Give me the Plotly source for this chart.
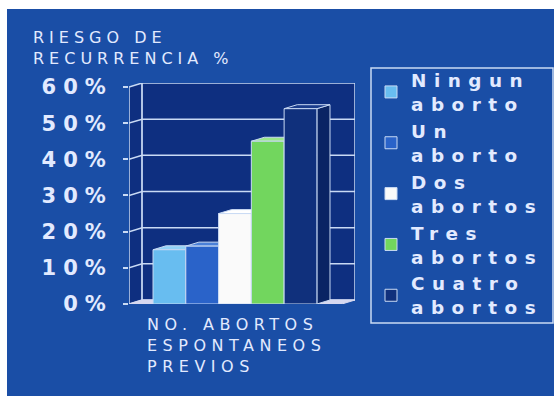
import plotly.graph_objects as go

# ---- data ----
categories = ["Ningun aborto", "Un aborto", "Dos abortos", "Tres abortos", "Cuatro abortos"]
legend_lines = [["Ningun", "aborto"], ["Un", "aborto"], ["Dos", "abortos"],
                ["Tres", "abortos"], ["Cuatro", "abortos"]]
risk_pct = [15, 16, 25, 45, 54]
y_ticks = [0, 10, 20, 30, 40, 50, 60]
y_tick_labels = ["0%", "10%", "20%", "30%", "40%", "50%", "60%"]

# ---- style ----
PANEL = "#1a4ea6"
WALL = "#0e2f80"
EDGE = "#c9daf4"
TEXT = "#e2eaff"
front_colors = ["#68bdf0", "#2a63c9", "#fafafa", "#72d65e", "#10307c"]
top_colors = ["#92d2f7", "#4a80d8", "#ffffff", "#9be68a", "#1a3c8c"]
side_colors = ["#4a9ad0", "#1f52aa", "#dcdcdc", "#58b548", "#0a2464"]

# pseudo-3D geometry in data units
DX, DY = 0.4, 1.1
X0, X1 = -1.233, 5.263
YTOP = y_ticks[-1]

# plot area in pixels (for placing paper-referenced items)
PL, PW, PB, PH = 129, 226, 304, 221


def px_x(px):
    return (px - PL) / PW


def px_y(py):
    return (PB - py) / PH


def spaced(txt, px):
    return f'<span style="letter-spacing:{px}px">{txt}</span>'


def poly(pts):
    return "M" + "L".join(f"{x},{y}" for x, y in pts) + "Z"


fig = go.Figure()

shapes = []
# blue panel inside a thin white margin
shapes.append(dict(type="rect", xref="paper", yref="paper", layer="below",
                   x0=px_x(7), x1=px_x(560), y0=px_y(400), y1=px_y(9),
                   fillcolor=PANEL, line=dict(width=0)))
# legend frame
shapes.append(dict(type="rect", xref="paper", yref="paper", layer="below",
                   x0=px_x(371), x1=px_x(553), y0=px_y(323), y1=px_y(68),
                   fillcolor=PANEL, line=dict(color=EDGE, width=1.5)))
# left wall, back wall
shapes.append(dict(type="path", xref="x", yref="y", layer="below",
                   path=poly([(X0, 0), (X0, YTOP), (X0 + DX, YTOP + DY), (X0 + DX, DY)]),
                   fillcolor=WALL, line=dict(color=EDGE, width=1.5)))
shapes.append(dict(type="rect", xref="x", yref="y", layer="below",
                   x0=X0 + DX, x1=X1 + DX, y0=DY, y1=YTOP + DY,
                   fillcolor=WALL, line=dict(color=EDGE, width=1.5)))
# gridlines on the back wall and across the left wall
for v in y_ticks[1:-1]:
    shapes.append(dict(type="path", xref="x", yref="y", layer="below",
                       path=f"M{X0},{v}L{X0 + DX},{v + DY}L{X1 + DX},{v + DY}",
                       line=dict(color=EDGE, width=1.5)))
# floor
shapes.append(dict(type="path", xref="x", yref="y", layer="below",
                   path=poly([(X0, 0), (X1, 0), (X1 + DX, DY), (X0 + DX, DY)]),
                   fillcolor="#d6d8f0", line=dict(color="#d6d8f0", width=1)))

# top and side faces of each bar
for i, v in enumerate(risk_pct):
    l, r = i - 0.5, i + 0.5
    shapes.append(dict(type="path", xref="x", yref="y", layer="below",
                       path=poly([(r, 0), (r, v), (r + DX, v + DY), (r + DX, DY)]),
                       fillcolor=side_colors[i], line=dict(color=EDGE, width=1)))
    shapes.append(dict(type="path", xref="x", yref="y", layer="below",
                       path=poly([(l, v), (r, v), (r + DX, v + DY), (l + DX, v + DY)]),
                       fillcolor=top_colors[i], line=dict(color=EDGE, width=1)))

# front faces
for i, (name, v) in enumerate(zip(categories, risk_pct)):
    label = "<br>".join(spaced(t, 7.5) for t in legend_lines[i])
    fig.add_trace(go.Bar(
        x=[i], y=[v], width=1, name=label,
        marker=dict(color=front_colors[i], line=dict(color=EDGE, width=1)),
        hovertemplate=f"{name}: %{{y}}%<extra></extra>",
    ))

fig.update_layout(
    width=554, height=396,
    margin=dict(l=PL, r=554 - PL - PW, t=PB - PH, b=396 - PB, autoexpand=False),
    paper_bgcolor="white",
    plot_bgcolor=PANEL,
    barmode="overlay",
    showlegend=True,
    shapes=shapes,
    xaxis=dict(range=[X0, X1 + DX], visible=False, fixedrange=True),
    yaxis=dict(range=[0, YTOP + DY], tickvals=y_ticks,
               ticktext=[spaced(t, 7) for t in y_tick_labels],
               showgrid=False, zeroline=False, showline=False,
               ticks="outside", ticklen=5, tickwidth=1.5, tickcolor=EDGE,
               ticklabelstandoff=6,
               tickfont=dict(family="DejaVu Sans", size=21, color=TEXT, weight="bold"),
               fixedrange=True),
    legend=dict(x=px_x(371), y=px_y(61.5), xanchor="left", yanchor="top",
                bgcolor="rgba(0,0,0,0)", borderwidth=0, maxheight=320,
                font=dict(family="DejaVu Sans", size=18.4, color=TEXT, weight="bold"),
                tracegroupgap=0, traceorder="normal"),
    annotations=[
        dict(xref="paper", yref="paper", x=px_x(31), y=px_y(26),
             xanchor="left", yanchor="top", align="left", showarrow=False,
             text=spaced("RIESGO DE", 5) + "<br>" + spaced("RECURRENCIA %", 5),
             font=dict(family="DejaVu Sans", size=16, color=TEXT)),
        dict(xref="paper", yref="paper", x=px_x(145), y=px_y(313),
             xanchor="left", yanchor="top", align="left", showarrow=False,
             text="<br>".join(spaced(t, 5.5) for t in ["NO. ABORTOS", "ESPONTANEOS", "PREVIOS"]),
             font=dict(family="DejaVu Sans", size=16, color=TEXT)),
    ],
)

fig.write_html("out.html")
